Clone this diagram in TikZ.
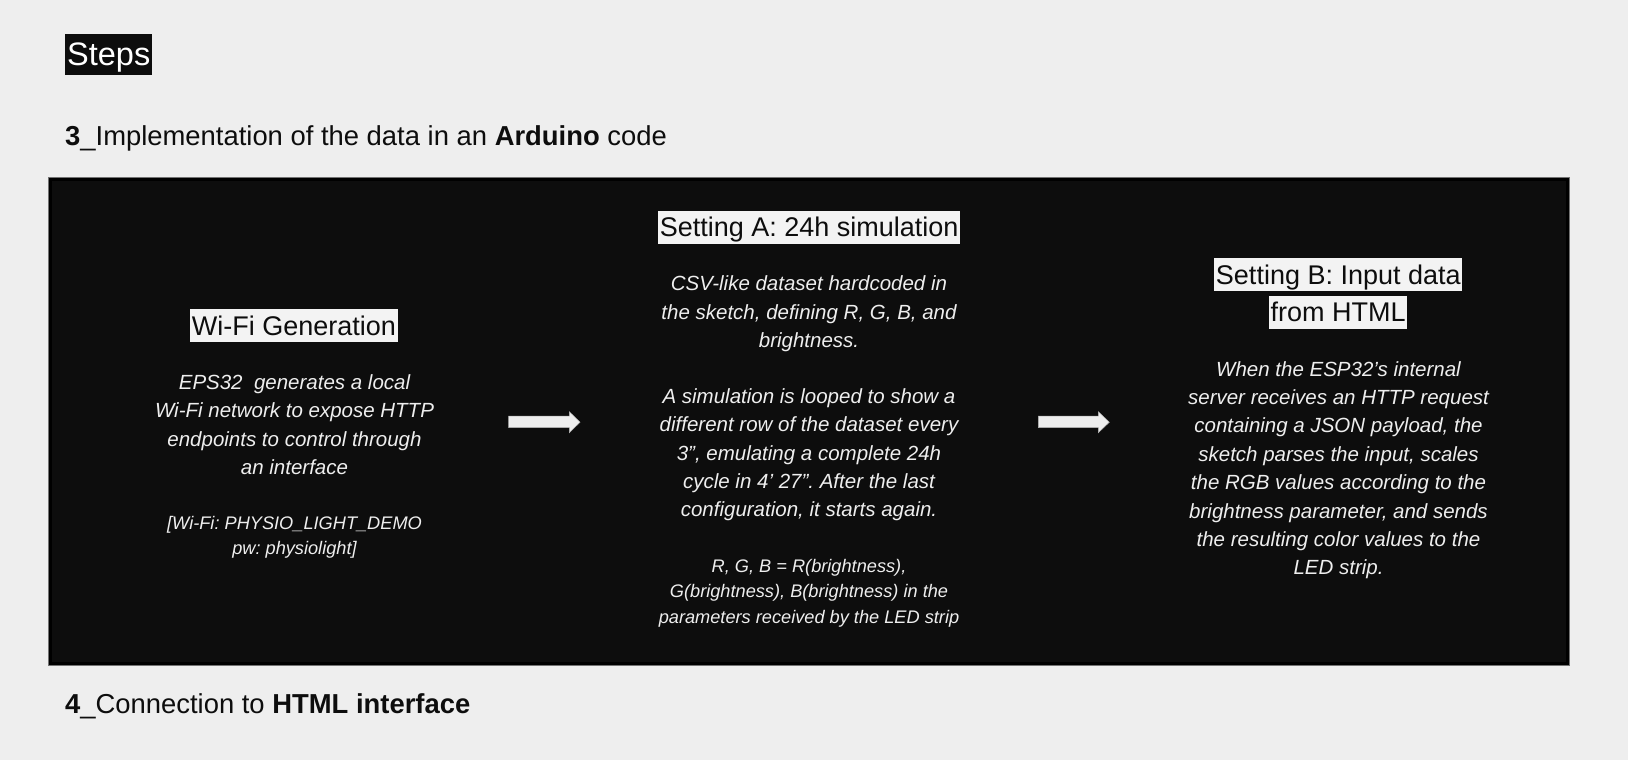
\documentclass[tikz,border=0pt]{standalone}
\usepackage{fontspec}
\setmainfont{Liberation Sans}
\frenchspacing
\definecolor{bg}{HTML}{EEEEEE}
\definecolor{panel}{HTML}{0D0D0D}
\definecolor{ink}{HTML}{0D0D0D}
\definecolor{paper}{HTML}{F3F3F3}
\definecolor{light}{HTML}{EEEEEE}
\begin{document}
\begin{tikzpicture}[x=1pt,y=-1pt,
  heading/.style={anchor=base west,inner sep=0pt,text=ink,font=\fontsize{27.4}{33}\selectfont},
  tagbox/.style={anchor=base,fill=paper,text=ink,inner xsep=1.6pt,inner ysep=0pt,text height=26pt,text depth=7pt,font=\fontsize{27}{33}\selectfont},
  bodytext/.style={anchor=north,inner sep=0pt,align=center,text=light,font=\fontsize{20.5}{28.4}\selectfont\itshape},
  smalltext/.style={anchor=north,inner sep=0pt,align=center,text=light,font=\fontsize{18.2}{25.4}\selectfont\itshape},
  blockarrow/.style={fill=light,draw=light!75!black,line width=0.5pt}
]
\fill[bg] (0,0) rectangle (1628,760);
\useasboundingbox (0,0) rectangle (1628,760);

% title and headings
\node[anchor=base west,fill=panel,text=white,inner xsep=2pt,inner ysep=0pt,
      text height=32pt,text depth=9pt,font=\fontsize{32.5}{38}\selectfont] (steps) at (65,65.7) {Steps};
\node[heading] (h3) at (65,145.7) {\textbf{3}\_Implementation of the data in an \textbf{Arduino} code};
\node[heading] (h4) at (65,713.3) {\textbf{4}\_Connection to \textbf{HTML interface}};

% dark panel
\draw[draw=black!55,line width=1pt] (48.5,177.5) rectangle (1569,665.7);
\filldraw[fill=panel,draw=black,line width=3pt] (50.3,179.3) rectangle (1567.2,663.9);

% column 1
\node[tagbox] (wifit) at (294,335) {Wi-Fi Generation};
\node[bodytext] (wifib) at (294.5,374.5) {EPS32\ \ generates a local\\Wi-Fi network to expose HTTP\\endpoints to control through\\an interface};
\node[smalltext] (wifipw) at (294.5,515.7) {[Wi-Fi: PHYSIO\_LIGHT\_DEMO\\pw: physiolight]};

% column 2
\node[tagbox] (sat) at (809.2,236.7) {Setting A: 24h simulation};
\node[bodytext] (sa1) at (809,275.7) {CSV-like dataset hardcoded in\\the sketch, defining R, G, B, and\\brightness.};
\node[bodytext] (sa2) at (809,388.3) {A simulation is looped to show a\\different row of the dataset every\\3”, emulating a complete 24h\\cycle in 4’ 27”. After the last\\configuration, it starts again.};
\node[smalltext] (sa3) at (809,559) {R, G, B = R(brightness),\\G(brightness), B(brightness) in the\\parameters received by the LED strip};

% column 3
\node[tagbox] (sbt1) at (1338.3,284.3) {Setting B: Input data};
\node[tagbox] (sbt2) at (1338.2,321.7) {from HTML};
\node[bodytext] (sb) at (1338.5,361) {When the ESP32’s internal\\server receives an HTTP request\\containing a JSON payload, the\\sketch parses the input, scales\\the RGB values according to the\\brightness parameter, and sends\\the resulting color values to the\\LED strip.};

% block arrows
\filldraw[blockarrow] (508.7,416) -- (569.3,416) -- (569.3,411.7) -- (580,422.2) -- (569.3,432.7) -- (569.3,427.7) -- (508.7,427.7) -- cycle;
\filldraw[blockarrow] (1038.3,416) -- (1098.3,416) -- (1098.3,411.7) -- (1109.3,422.2) -- (1098.3,432.7) -- (1098.3,427.7) -- (1038.3,427.7) -- cycle;
\end{tikzpicture}
\end{document}
